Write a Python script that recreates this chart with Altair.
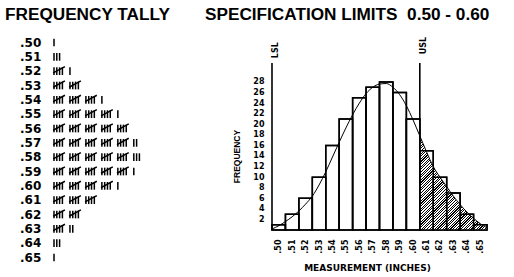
import json
import altair as alt
import pandas as pd

# ---------------- data ----------------
centers = [0.50, 0.51, 0.52, 0.53, 0.54, 0.55, 0.56, 0.57,
           0.58, 0.59, 0.60, 0.61, 0.62, 0.63, 0.64, 0.65]
counts = [1, 3, 6, 10, 16, 21, 25, 27, 28, 26, 21, 15, 10, 7, 3, 1]
tick_labels = [".50", ".51", ".52", ".53", ".54", ".55", ".56", ".57",
               ".58", ".59", ".60", ".61", ".62", ".63", ".64", ".65"]
freq_ticks = [2, 4, 6, 8, 10, 12, 14, 16, 18, 20, 22, 24, 26, 28]

# fitted curve
curve_x = [0.495, 0.500, 0.505, 0.510, 0.515, 0.520, 0.525, 0.530, 0.535,
           0.540, 0.545, 0.550, 0.555, 0.560, 0.565, 0.570, 0.575, 0.580,
           0.585, 0.590, 0.595, 0.600, 0.605, 0.610, 0.615, 0.620, 0.625,
           0.630, 0.635, 0.640, 0.645, 0.650, 0.655]
curve_y = [0.2, 0.8, 1.6, 2.5, 3.6, 4.9, 6.4, 8.5, 11.0,
           13.8, 16.6, 19.3, 21.8, 24.0, 25.8, 27.0, 27.6, 27.7,
           27.0, 25.6, 23.5, 20.8, 17.8, 14.8, 12.0, 10.0, 8.2,
           6.4, 4.8, 3.4, 2.2, 1.2, 0.4]

limit_names = ["LSL", "USL"]
limit_x = [0.495, 0.605]
limit_top = [31.6, 31.6]
limit_label_y = [34.0, 34.9]

left_title = "FREQUENCY TALLY"
right_title = "SPECIFICATION LIMITS\u00a0 0.50 - 0.60"
x_title = "MEASUREMENT (INCHES)"
y_title = "FREQUENCY"

# ---------------- tally panel ----------------
strokes = []
for i, n in enumerate(counts):
    for k in range(n):
        g, p = divmod(k, 5)
        base = g * 5.7
        if p < 4:
            strokes.append(dict(row=i, x0=base + p, x1=base + p, y0=i - 0.27, y1=i + 0.27))
        else:
            strokes.append(dict(row=i, x0=base - 0.3, x1=base + 3.9, y0=i + 0.12, y1=i - 0.32))
stroke_df = pd.DataFrame(strokes)
label_df = pd.DataFrame({"row": list(range(len(tick_labels))), "label": tick_labels})

tx = alt.Scale(domain=[0, 40], range=[54, 166])
ty = alt.Scale(domain=[0, 15], range=[42.5, 257.5])

tally_lines = alt.Chart(stroke_df).mark_rule(color="black", strokeWidth=1.5).encode(
    x=alt.X("x0:Q", scale=tx, axis=None),
    x2="x1:Q",
    y=alt.Y("y0:Q", scale=ty, axis=None),
    y2="y1:Q",
)
tally_labels = alt.Chart(label_df).mark_text(
    align="left", baseline="middle", font="DejaVu Sans", fontWeight="bold",
    fontSize=12, color="black"
).encode(
    x=alt.value(20),
    y=alt.Y("row:Q", scale=ty, axis=None),
    text="label:N",
)
title_df1 = pd.DataFrame({"t": [left_title]})
title_df2 = pd.DataFrame({"t": [right_title]})
t1 = alt.Chart(title_df1).mark_text(
    align="left", baseline="middle", font="Liberation Sans", fontWeight="bold",
    fontSize=17.2, color="black"
).encode(x=alt.value(5), y=alt.value(14.5), text="t:N")
t2 = alt.Chart(title_df2).mark_text(
    align="left", baseline="middle", font="Liberation Sans", fontWeight="bold",
    fontSize=17.2, color="black"
).encode(x=alt.value(205), y=alt.value(14.5), text="t:N")

tally = alt.layer(tally_lines, tally_labels, t1, t2).properties(width=262, height=277)

# ---------------- histogram panel ----------------
hist_df = pd.DataFrame({"center": centers, "count": counts})
curve_df = pd.DataFrame({"cx": curve_x, "cy": curve_y})
limit_df = pd.DataFrame({"name": limit_names, "lx": limit_x, "top": limit_top, "ly": limit_label_y})

xs = alt.Scale(domain=[0.495, 0.655], nice=False, zero=False)
ys = alt.Scale(domain=[0, 43.5], nice=False)

label_expr = json.dumps(tick_labels) + "[round(datum.value * 100) - 50]"
xaxis = alt.Axis(
    values=centers, labelExpr=label_expr, labelAngle=270,
    labelFont="DejaVu Sans", labelFontWeight="bold", labelFontSize=8, labelColor="black",
    labelPadding=9, labelOverlap=False, labelFlush=False,
    ticks=False, domain=False, grid=False,
    title=x_title, titleFont="DejaVu Sans", titleFontWeight="bold", titleFontSize=9,
    titleColor="black", titleX=95, titleY=37.5, titleAlign="center", titleBaseline="middle",
)
yaxis = alt.Axis(
    values=freq_ticks, labelFont="DejaVu Sans", labelFontWeight="bold", labelFontSize=8,
    labelColor="black", labelPadding=8, labelOverlap=False, labelFlush=False,
    ticks=False, domain=False, grid=False,
    title=y_title, titleFont="Liberation Sans", titleFontWeight="bold", titleFontSize=8.5,
    titleColor="black", titleAngle=270, titleX=-36, titleY=156,
    titleAlign="center", titleBaseline="middle",
)

def X(field):
    return alt.X(field, type="quantitative", scale=xs, axis=xaxis)

def Y(field):
    return alt.Y(field, type="quantitative", scale=ys, axis=yaxis)

bars_base = alt.Chart(hist_df).transform_calculate(
    lo="datum.center - 0.005", hi="datum.center + 0.005", zero="0"
)
bars_fill = bars_base.mark_rect(fill="white", stroke="black", strokeWidth=1.5).encode(
    x=X("lo"), x2="hi:Q", y=Y("count"), y2="zero:Q"
)

stops = []
n_stripes = 65
for j in range(n_stripes):
    a = j / n_stripes
    b = (j + 0.45) / n_stripes
    c = (j + 1) / n_stripes
    stops += [
        alt.GradientStop(color="black", offset=a),
        alt.GradientStop(color="black", offset=b),
        alt.GradientStop(color="white", offset=b),
        alt.GradientStop(color="white", offset=c),
    ]
hatch_fill = alt.LinearGradient(gradient="linear", stops=stops, x1=0, y1=0, x2=0.857, y2=1.2)

hatch = alt.Chart(curve_df).transform_filter("datum.cx >= 0.6049").mark_area(
    fill=hatch_fill, interpolate="monotone"
).encode(x=X("cx"), y=Y("cy"))

bars_outline = bars_base.mark_rect(fillOpacity=0, stroke="black", strokeWidth=1.5).encode(
    x=X("lo"), x2="hi:Q", y=Y("count"), y2="zero:Q"
)

curve = alt.Chart(curve_df).mark_line(color="black", strokeWidth=1, interpolate="monotone").encode(
    x=X("cx"), y=Y("cy")
)

limit_rules = alt.Chart(limit_df).transform_calculate(zero="0").mark_rule(
    color="black", strokeWidth=1.6
).encode(x=X("lx"), y=Y("zero"), y2="top:Q")

limit_text = alt.Chart(limit_df).mark_text(
    angle=270, align="center", baseline="middle", dy=4,
    font="DejaVu Sans", fontWeight="bold", fontSize=8, color="black"
).encode(x=X("lx"), y=Y("ly"), text="name:N")

hist = alt.layer(bars_fill, hatch, bars_outline, curve, limit_rules, limit_text).properties(
    width=215, height=230
)

chart = alt.hconcat(tally, hist, spacing=10, bounds="flush").properties(
    padding=0, background="white"
).configure_view(stroke=None)

chart.save("out.html", embed_options={"renderer": "svg", "actions": False})
